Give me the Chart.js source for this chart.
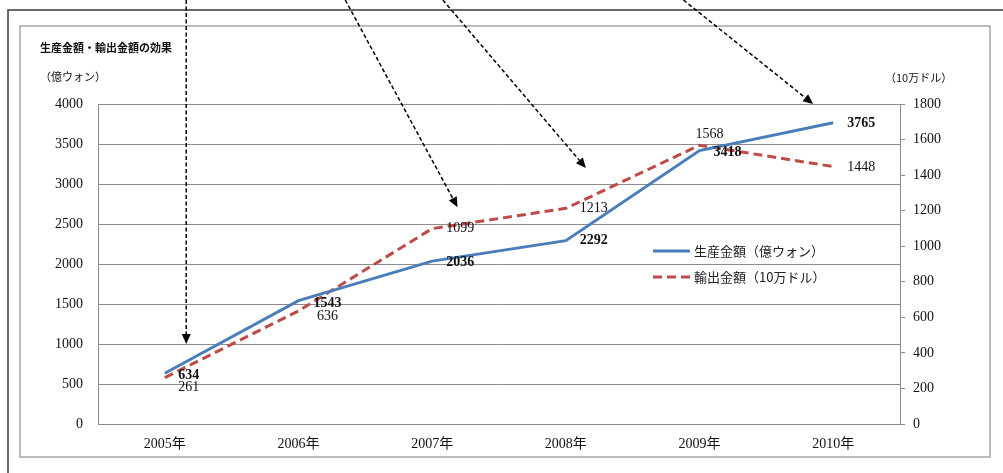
<!DOCTYPE html>
<html>
<head>
<meta charset="utf-8">
<script src="https://cdn.jsdelivr.net/npm/chart.js@4/dist/chart.umd.min.js"></script>
<style>
  html, body { margin: 0; padding: 0; background: #fff; overflow: hidden; }
  canvas { display: block; }
</style>
</head>
<body>
<canvas id="chart" width="1003" height="473"></canvas>
<script>
// Years on the category axis
const years = ['2005年', '2006年', '2007年', '2008年', '2009年', '2010年'];
// Production amount (億ウォン), left axis
const productionAmount = [634, 1543, 2036, 2292, 3418, 3765];
// Export amount (10万ドル), right axis
const exportAmount = [261, 636, 1099, 1213, 1568, 1448];
// Axis tick values
const leftTicks = [0, 500, 1000, 1500, 2000, 2500, 3000, 3500, 4000];
const rightTicks = [0, 200, 400, 600, 800, 1000, 1200, 1400, 1600, 1800];

// Where each value label sits relative to its point (dx, dy in px)
const labelOffsets = [
  [[24, 2], [29, 3], [28, 1], [28, 0], [28, 2], [28, 1]],
  [[24, 10], [29, 5], [28, 0], [28, 0], [10, -11], [28, 1]]
];

// Callout arrows, in axis units: [category index, left-axis value]
const arrows = [
  { from: [0.16, 5300], to: [0.16, 1000] },
  { from: [1.35, 5300], to: [2.19, 2710] },
  { from: [2.08, 5300], to: [3.15, 3200] },
  { from: [3.88, 5300], to: [4.85, 4000] }
];

const SERIF = "'Liberation Serif', 'Noto Sans CJK JP', serif";
const CJK = "'Noto Sans CJK JP', 'Noto Sans CJK SC', sans-serif";
const GRID = '#8c8c8c';

// Page frame, panel border and the heading texts
const framePlugin = {
  id: 'framePlugin',
  beforeDraw(chart) {
    const ctx = chart.ctx;
    ctx.save();
    ctx.fillStyle = '#fff';
    ctx.fillRect(0, 0, chart.width, chart.height);
    ctx.strokeStyle = '#3a3a3a';
    ctx.lineWidth = 1.5;
    ctx.beginPath();
    ctx.moveTo(8, chart.height);
    ctx.lineTo(8, 10);
    ctx.lineTo(chart.width, 10);
    ctx.stroke();
    ctx.strokeStyle = '#a6a6a6';
    ctx.lineWidth = 1.5;
    ctx.strokeRect(20, 26, 970, 431);

    ctx.fillStyle = '#111';
    ctx.textBaseline = 'middle';
    ctx.textAlign = 'left';
    ctx.font = 'bold 11px ' + CJK;
    ctx.fillText('生産金額・輸出金額の効果', 40, 48);
    ctx.font = '11px ' + CJK;
    ctx.fillText('（億ウォン）', 40, 77);
    ctx.fillText('（10万ドル）', 885, 78);
    ctx.restore();
  }
};

// Value labels next to each point
const valueLabelPlugin = {
  id: 'valueLabelPlugin',
  afterDatasetsDraw(chart) {
    const ctx = chart.ctx;
    ctx.save();
    ctx.textAlign = 'center';
    ctx.textBaseline = 'middle';
    ctx.fillStyle = '#111';
    chart.data.datasets.forEach((ds, i) => {
      const meta = chart.getDatasetMeta(i);
      ctx.font = (i === 0 ? 'bold ' : '') + '14px ' + SERIF;
      meta.data.forEach((pt, j) => {
        const o = labelOffsets[i][j];
        ctx.fillText(String(ds.data[j]), pt.x + o[0], pt.y + o[1]);
      });
    });
    ctx.restore();
  }
};

// Legend drawn inside the plot
const legendPlugin = {
  id: 'legendPlugin',
  afterDatasetsDraw(chart) {
    const ctx = chart.ctx;
    const area = chart.chartArea;
    ctx.save();
    ctx.font = '13px ' + CJK;
    ctx.textBaseline = 'middle';
    ctx.textAlign = 'left';
    chart.data.datasets.forEach((ds, i) => {
      const y = area.top + 147 + i * 26;
      const x0 = area.left + 555;
      ctx.strokeStyle = ds.borderColor;
      ctx.lineWidth = ds.borderWidth;
      ctx.setLineDash(ds.borderDash || []);
      ctx.beginPath();
      ctx.moveTo(x0, y);
      ctx.lineTo(x0 + 37, y);
      ctx.stroke();
      ctx.setLineDash([]);
      ctx.fillStyle = '#222';
      ctx.fillText(ds.label, x0 + 41, y);
    });
    ctx.restore();
  }
};

// Dashed callout arrows
const arrowPlugin = {
  id: 'arrowPlugin',
  afterDraw(chart) {
    const ctx = chart.ctx;
    const xs = chart.scales.x, ys = chart.scales.yL;
    ctx.save();
    ctx.strokeStyle = '#000';
    ctx.fillStyle = '#000';
    ctx.lineWidth = 1.5;
    arrows.forEach(a => {
      const x1 = xs.getPixelForValue(a.from[0]), y1 = ys.getPixelForValue(a.from[1]);
      const x2 = xs.getPixelForValue(a.to[0]), y2 = ys.getPixelForValue(a.to[1]);
      const ang = Math.atan2(y2 - y1, x2 - x1);
      const head = 10, half = 4.5;
      const bx = x2 - head * Math.cos(ang), by = y2 - head * Math.sin(ang);
      ctx.setLineDash([4, 2.5]);
      ctx.beginPath();
      ctx.moveTo(x1, y1);
      ctx.lineTo(bx, by);
      ctx.stroke();
      ctx.setLineDash([]);
      ctx.beginPath();
      ctx.moveTo(x2, y2);
      ctx.lineTo(bx + half * Math.sin(ang), by - half * Math.cos(ang));
      ctx.lineTo(bx - half * Math.sin(ang), by + half * Math.cos(ang));
      ctx.closePath();
      ctx.fill();
    });
    ctx.restore();
  }
};

Chart.defaults.font.family = SERIF;
Chart.defaults.font.size = 14;
Chart.defaults.color = '#111';

const plainNumber = v => String(v);

new Chart(document.getElementById('chart'), {
  type: 'line',
  data: {
    labels: years,
    datasets: [
      {
        label: '生産金額（億ウォン）',
        data: productionAmount,
        yAxisID: 'yL',
        borderColor: '#4a7ebb',
        borderWidth: 3,
        pointRadius: 0,
        tension: 0,
        fill: false
      },
      {
        label: '輸出金額（10万ドル）',
        data: exportAmount,
        yAxisID: 'yR',
        borderColor: '#be4b48',
        borderWidth: 3,
        borderDash: [9, 5],
        pointRadius: 0,
        tension: 0,
        fill: false
      }
    ]
  },
  options: {
    responsive: false,
    animation: false,
    devicePixelRatio: 1,
    layout: { padding: { top: 104, left: 0, right: 0, bottom: 0 } },
    plugins: {
      legend: { display: false },
      title: { display: false },
      tooltip: { enabled: false }
    },
    scales: {
      x: {
        offset: true,
        grid: { display: false, drawTicks: false },
        border: { display: true, color: GRID, width: 1 },
        ticks: { padding: 12, font: { size: 14, family: SERIF }, maxRotation: 0 },
        afterFit(scale) { scale.height = 49; }
      },
      yL: {
        position: 'left',
        min: leftTicks[0],
        max: leftTicks[leftTicks.length - 1],
        afterBuildTicks(scale) { scale.ticks = leftTicks.map(v => ({ value: v })); },
        grid: { color: GRID, lineWidth: 1, drawTicks: false },
        border: { display: true, color: GRID, width: 1 },
        ticks: { padding: 15, font: { size: 14, family: SERIF }, callback: plainNumber },
        afterFit(scale) { scale.width = 98; }
      },
      yR: {
        position: 'right',
        min: rightTicks[0],
        max: rightTicks[rightTicks.length - 1],
        afterBuildTicks(scale) { scale.ticks = rightTicks.map(v => ({ value: v })); },
        grid: { drawOnChartArea: false, drawTicks: true, tickLength: 5, color: GRID, lineWidth: 1 },
        border: { display: true, color: GRID, width: 1 },
        ticks: { padding: 8, font: { size: 14, family: SERIF }, callback: plainNumber },
        afterFit(scale) { scale.width = 103; }
      }
    }
  },
  plugins: [framePlugin, valueLabelPlugin, legendPlugin, arrowPlugin]
});
</script>
</body>
</html>
